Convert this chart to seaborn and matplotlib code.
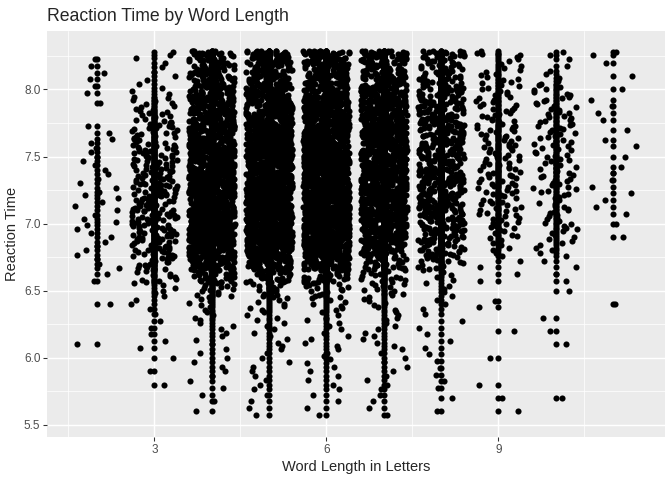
# %%
# imports
import numpy as np
import pandas as pd
import matplotlib
matplotlib.use("Agg")
import matplotlib.pyplot as plt
import seaborn as sns
from matplotlib.ticker import FixedLocator


# %%
# data
# reaction time (log RT) bands, given as band edges
rt_edges = [5.55, 5.65, 5.75, 5.85, 5.95, 6.05, 6.15, 6.25, 6.35, 6.45,
            6.55, 6.65, 6.75, 6.85, 6.95, 7.05, 7.15, 7.25, 7.35, 7.45,
            7.55, 7.65, 7.75, 7.85, 7.95, 8.05, 8.15, 8.25, 8.29]

word_lengths = [2, 3, 4, 5, 6, 7, 8, 9, 10, 11]

# number of words in each band, per word length (estimated from dot density)
len2_counts = [0, 0, 0, 0, 0, 1, 0, 0, 1, 0, 2, 3, 3, 3, 4, 3, 4, 3, 3, 3, 3, 2, 0, 1, 2, 2, 2, 0]
len3_counts = [0, 0, 1, 1, 1, 2, 2, 2, 3, 5, 11, 17, 21, 23, 25, 25, 25, 24, 23, 21, 19, 16, 14, 9, 4, 3, 3, 2]
len4_counts = [1, 2, 2, 3, 3, 3, 4, 5, 6, 12, 30, 70, 90, 100, 110, 110, 110, 105, 100, 95, 90, 80, 70, 60, 50, 40, 35, 20]
len5_counts = [2, 2, 3, 3, 3, 4, 4, 5, 7, 12, 30, 65, 110, 130, 140, 140, 140, 135, 130, 120, 110, 100, 90, 80, 65, 55, 45, 25]
len6_counts = [2, 2, 3, 3, 4, 4, 4, 5, 7, 12, 28, 65, 105, 125, 135, 140, 140, 135, 130, 125, 115, 105, 95, 85, 70, 60, 50, 30]
len7_counts = [2, 2, 3, 3, 3, 4, 4, 5, 6, 10, 16, 28, 48, 70, 85, 95, 100, 100, 100, 95, 90, 85, 80, 70, 60, 50, 45, 25]
len8_counts = [1, 1, 2, 2, 2, 2, 2, 2, 3, 4, 5, 14, 24, 32, 37, 40, 41, 41, 41, 41, 40, 38, 35, 32, 30, 27, 24, 15]
len9_counts = [1, 1, 1, 0, 1, 0, 1, 0, 2, 0, 2, 2, 5, 8, 10, 11, 12, 12, 13, 12, 12, 12, 11, 10, 9, 8, 6, 4]
len10_counts = [0, 1, 0, 0, 0, 1, 1, 1, 0, 1, 2, 2, 5, 7, 8, 9, 9, 10, 10, 10, 10, 10, 10, 9, 8, 4, 2, 2]
len11_counts = [0, 0, 0, 0, 0, 0, 0, 0, 1, 0, 0, 0, 0, 1, 1, 2, 2, 2, 2, 1, 2, 1, 2, 2, 1, 1, 1, 2]

all_counts = [len2_counts, len3_counts, len4_counts, len5_counts, len6_counts,
              len7_counts, len8_counts, len9_counts, len10_counts, len11_counts]


# %%
# one row per word, spread through its band
rows = []
for length, counts in zip(word_lengths, all_counts):
    for lo, hi, n in zip(rt_edges[:-1], rt_edges[1:], counts):
        for i in range(n):
            rows.append((length, lo + (i + 0.5) * (hi - lo) / n))

rt_df = pd.DataFrame(rows, columns=["length", "rt"])
print(rt_df.groupby("length").size())


# %%
# ggplot-ish grey theme
sns.set_theme(style="darkgrid", rc={
    "axes.facecolor": "#EBEBEB",
    "grid.color": "white",
    "axes.edgecolor": "#EBEBEB",
})
plt.rcParams["font.family"] = ["Liberation Sans", "DejaVu Sans"]

fig, ax = plt.subplots(figsize=(7, 5), dpi=96)
fig.subplots_adjust(left=0.070, right=0.990, bottom=0.0896, top=0.935)

# points at the exact word length (geom_point) ...
sns.scatterplot(data=rt_df, x="length", y="rt", color="black", s=21,
                linewidth=0, legend=False, ax=ax, zorder=3)

# ... plus the same points jittered sideways (geom_jitter)
np.random.seed(7)
sns.stripplot(data=rt_df, x="length", y="rt", native_scale=True, orient="x",
              jitter=0.4, color="black", size=4.6, linewidth=0, ax=ax, zorder=3)

ax.set_xlim(1.13, 11.91)
ax.set_ylim(5.41, 8.434)

ax.xaxis.set_major_locator(FixedLocator([3, 6, 9]))
ax.xaxis.set_minor_locator(FixedLocator([1.5, 4.5, 7.5, 10.5]))
ax.yaxis.set_major_locator(FixedLocator([5.5, 6.0, 6.5, 7.0, 7.5, 8.0]))
ax.yaxis.set_minor_locator(FixedLocator([5.75, 6.25, 6.75, 7.25, 7.75, 8.25]))
ax.set_xticklabels(["3", "6", "9"])
ax.set_yticklabels(["5.5", "6.0", "6.5", "7.0", "7.5", "8.0"])

ax.grid(which="major", color="white", linewidth=1.07)
ax.grid(which="minor", color="white", linewidth=0.53)
ax.set_axisbelow(True)
for sp in ax.spines.values():
    sp.set_visible(False)

ax.tick_params(which="major", length=2.75, width=0.8, color="#333333",
               labelcolor="#4D4D4D", labelsize=8.8, pad=2.2,
               bottom=True, left=True)
ax.tick_params(which="minor", length=0)

ax.set_xlabel("Word Length in Letters", fontsize=11, labelpad=3.5)
ax.set_ylabel("Reaction Time", fontsize=11, labelpad=3.5)
ax.set_title("Reaction Time by Word Length", loc="left", fontsize=13.2, pad=7.7)

fig.savefig("out.png", dpi=96)
